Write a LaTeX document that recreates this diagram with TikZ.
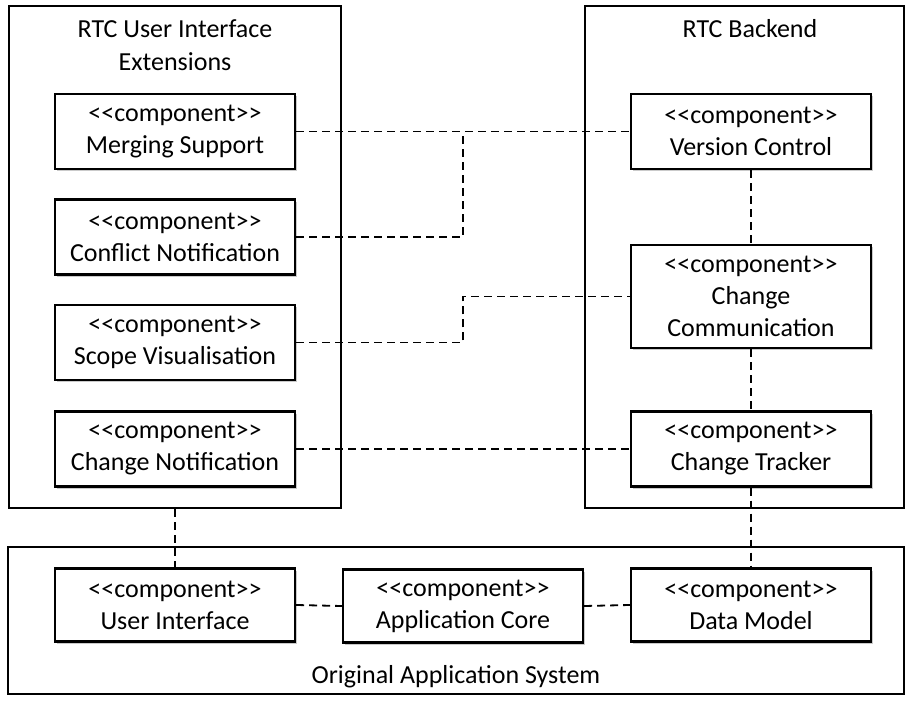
\documentclass[tikz,border=0pt]{standalone}
\usepackage{fontspec}
\setmainfont{Carlito}[Ligatures=TeXOff]
\usetikzlibrary{shadows}
\begin{document}
\begin{tikzpicture}[x=1pt,y=-1pt,
  comp/.style={draw, line width=2.4pt, fill=white, minimum width=240pt, minimum height=75pt,
    align=center, font=\fontsize{26}{32}\selectfont, inner sep=0pt,
    drop shadow={shadow xshift=2pt, shadow yshift=-2pt, opacity=0.35, fill=black!60}},
  cont/.style={draw, line width=2.2pt, minimum width=0pt, inner sep=0pt},
  ttl/.style={font=\fontsize{26}{33}\selectfont, align=center, inner sep=0pt},
  link/.style={draw, line width=1.8pt, dash pattern=on 8pt off 5pt}]
\useasboundingbox (0,0) rectangle (906,701);
% containers
\node[cont, minimum width=332pt, minimum height=502pt] (uiext) at (175,257) {};
\node[cont, minimum width=319pt, minimum height=502pt] (backend) at (744.5,257) {};
\node[cont, minimum width=896pt, minimum height=147pt] (orig) at (456,620.5) {};
\node[ttl] (uiexttitle) at (175,45) {RTC User Interface\\Extensions};
\node[ttl] (backendtitle) at (750,29) {RTC Backend};
\node[ttl] (origtitle) at (456,677) {Original Application System};
% coordinates
\coordinate (j1) at (463,131.5);
\coordinate (j2) at (463,342.5);
% left components
\node[comp] (ms) at (175,131.5) {<<component>>\\Merging Support};
\node[comp] (cn) at (175,237) {<<component>>\\Conflict Notification};
\node[comp] (sv) at (175,342.5) {<<component>>\\Scope Visualisation};
\node[comp] (chn) at (175,449) {<<component>>\\Change Notification};
% right components
\node[comp] (vc) at (751,131.5) {<<component>>\\Version Control};
\node[comp, minimum height=103pt] (cc) at (751,296.5) {<<component>>\\Change\\Communication};
\node[comp] (ct) at (751,449) {<<component>>\\Change Tracker};
% bottom components
\node[comp, minimum height=73pt] (ui) at (175,605) {<<component>>\\User Interface};
\node[comp, minimum height=73pt] (ac) at (463,606) {<<component>>\\Application Core};
\node[comp, minimum height=73pt] (dm) at (751,605) {<<component>>\\Data Model};
% links
\draw[link] (ms.east) -- (vc.west);
\draw[link] (cn.east) -| (j1);
\draw[link] (sv.east) -- (j2) |- (cc.west);
\draw[link] (chn.east) -- (ct.west);
\draw[link] (vc.south) -- (cc.north);
\draw[link] (cc.south) -- (ct.north);
\draw[link] (ct.south) -- (dm.north);
\draw[link] (uiext.south) -- (ui.north);
\draw[link] (ui.east) -- (ac.west);
\draw[link] (ac.east) -- (dm.west);
\end{tikzpicture}
\end{document}
